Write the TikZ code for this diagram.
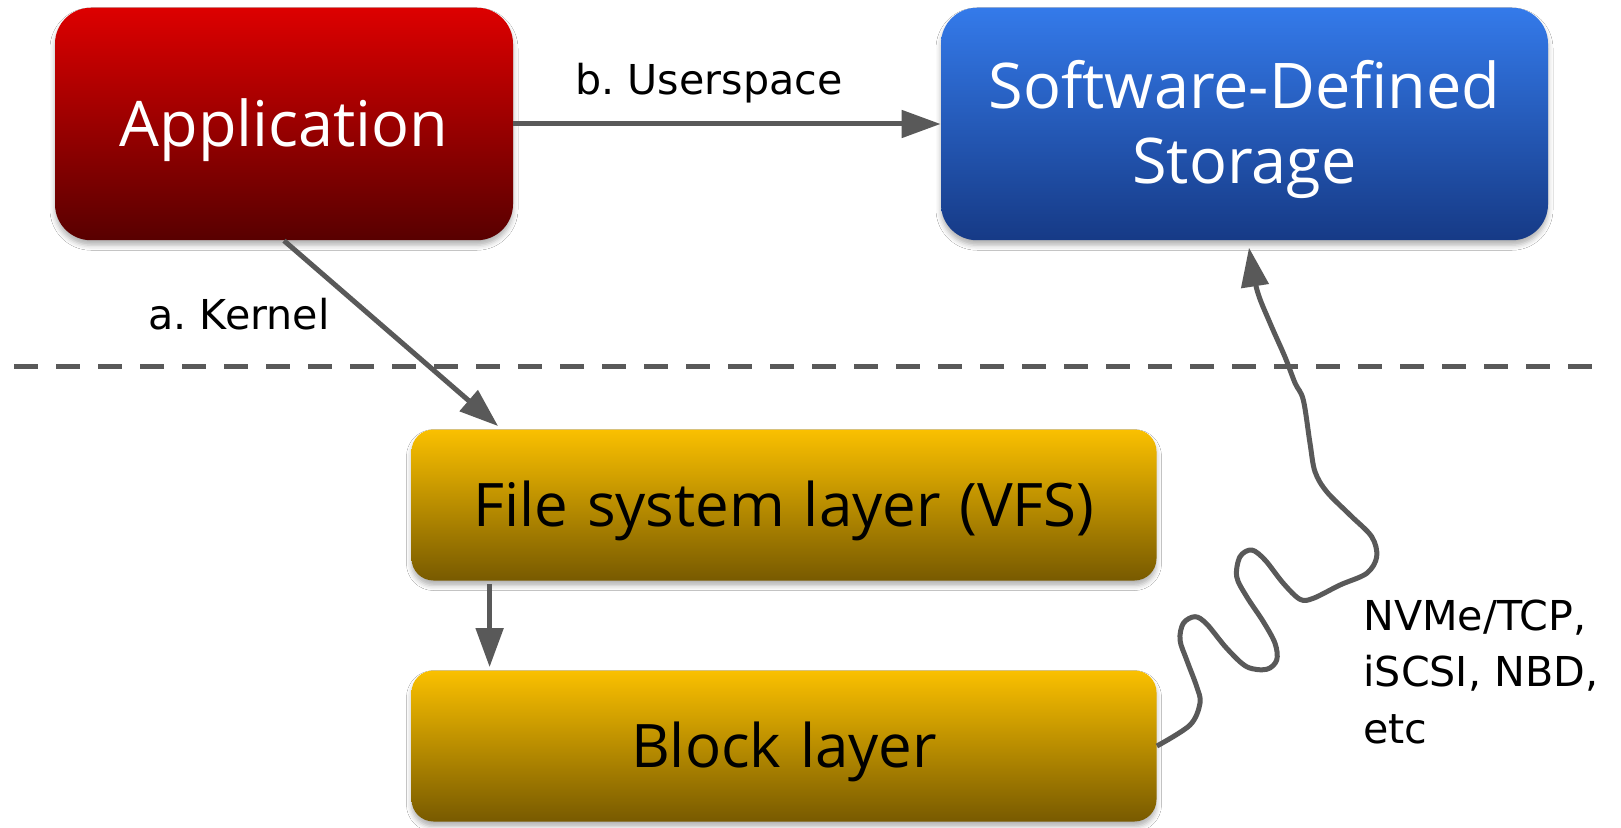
\documentclass[tikz,border=0pt]{standalone}
\usepackage{fontspec}
\setmainfont{Open Sans}
\newfontfamily\labelfont{DejaVu Sans}
\usetikzlibrary{arrows.meta,shadows.blur,calc}

\definecolor{linegrey}{RGB}{89,89,89}
\definecolor{redtop}{RGB}{221,0,0}
\definecolor{redbot}{RGB}{88,0,0}
\definecolor{bluetop}{RGB}{52,122,234}
\definecolor{bluebot}{RGB}{22,58,134}
\definecolor{goldtop}{RGB}{250,192,0}
\definecolor{goldbot}{RGB}{120,90,0}

\newcommand{\layerfont}{\fontsize{30pt}{36pt}\selectfont\spaceskip=9.3pt\relax}

\tikzset{
  boxshadow/.style={blur shadow={shadow xshift=0pt, shadow yshift=-2.5pt,
      shadow blur radius=2.5pt, shadow opacity=30}},
  bigbox/.style={boxshadow, rounded corners=18pt, inner sep=0pt,
      minimum width=#1, minimum height=116.25pt, text=white, align=center,
      font=\fontsize{31.5pt}{37.5pt}\selectfont},
  layerbox/.style={boxshadow, rounded corners=11pt, inner sep=0pt,
      minimum width=372.5pt, minimum height=75.5pt, text=black,
      top color=goldtop, bottom color=goldbot, font=\layerfont,
      text height=21.5pt, text depth=0pt},
  conn/.style={draw=linegrey, line width=2.5pt,
      -{Triangle[length=19.5pt, width=13.5pt]}},
  lbl/.style={text=black, font=\labelfont\fontsize{20.6pt}{28.25pt}\selectfont,
      inner sep=0pt}
}

\begin{document}
\frenchspacing
\begin{tikzpicture}[x=0.5pt, y=-0.5pt]
  \useasboundingbox[fill=white] (0,0) rectangle (1621,828);

  % top row: the application and the storage service
  \node[bigbox=229pt, top color=redtop, bottom color=redbot,
        text height=22.5pt, text depth=0pt] (app) at (284,124) {Application};
  \node[bigbox=303.5pt, top color=bluetop, bottom color=bluebot,
        text height=60pt, text depth=0pt] (sds) at (1244.5,124)
        {Software-Defined\\Storage};

  % kernel layers
  \node[layerbox] (vfs) at (784,505) {File system layer (VFS)};
  \node[layerbox] (blk) at (784,746) {Block layer};

  % user / kernel boundary
  \coordinate (sepL) at (14,366.5);
  \coordinate (sepR) at (1592,366.5);
  \draw[linegrey, line width=2.75pt, dash pattern=on 12pt off 9pt] (sepL) -- (sepR);

  % connectors
  \draw[conn] (app.east) -- (sds.west);
  \coordinate (ktip) at ($(vfs.north west)+(87,-3)$);
  \draw[conn] (app.south) -- (ktip);
  \coordinate (vtop) at ($(vfs.south west)+(78.5,3)$);
  \coordinate (vbot) at ($(blk.north west)+(78.5,-3)$);
  \draw[conn] (vtop) -- (vbot);

  \coordinate (stip) at ($(sds.south)+(4.5,7)$);
  \draw[conn, line join=round] plot[smooth, tension=0.55] coordinates {
    (blk.east) (1190,725) (1200,703) (1196.7,686.7) (1186.7,660) (1180,640)
    (1183.3,623.3) (1195,616.7) (1206.7,624) (1226.7,648.3) (1246.7,666.7)
    (1266.7,669.3) (1276.7,660) (1275,643.3) (1263.3,621.7) (1246.7,596.7)
    (1236.7,576.7) (1240,556.7) (1251.7,550) (1265,560) (1283.3,583.3)
    (1300,599.3) (1313.3,598.3) (1340,585) (1366.7,573.3) (1376.7,556.7)
    (1371.7,536.7) (1350,515) (1326.7,491.7) (1315,471.7) (1310,443.3)
    (1303.3,400) (1295,383) (1285,357) (1270,323) (1257,290) (stip)};

  % labels
  \node[lbl, anchor=base] (lu) at (709,95) {b. Userspace};
  \node[lbl, anchor=base] (lk) at (239,330) {a. Kernel};
  \node[lbl, anchor=base west, align=left] (lp) at (1363,743)
    {NVMe/TCP,\\iSCSI, NBD,\\etc};
\end{tikzpicture}
\end{document}
